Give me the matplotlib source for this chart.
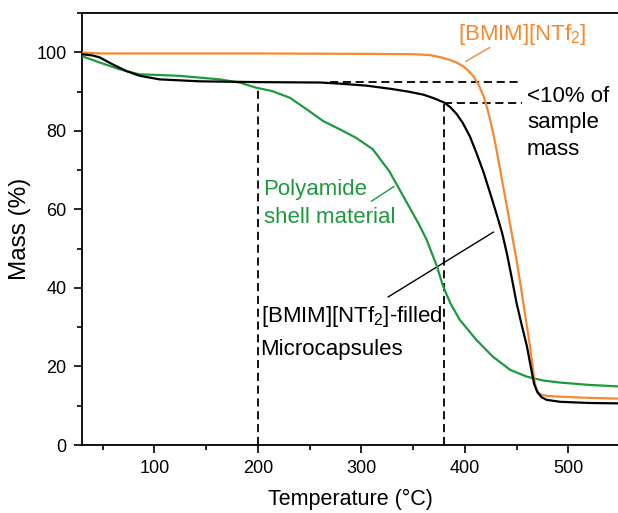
import matplotlib
matplotlib.use("Agg")
import matplotlib.pyplot as plt
from matplotlib.ticker import MultipleLocator

plt.rcParams['font.family'] = ['Liberation Sans', 'DejaVu Sans']
plt.rcParams['mathtext.fontset'] = 'custom'
plt.rcParams['mathtext.rm'] = 'Liberation Sans'
plt.rcParams['mathtext.it'] = 'Liberation Sans:italic'
plt.rcParams['mathtext.bf'] = 'Liberation Sans:bold'

# ---- data ----
T_caps = [30, 40, 47, 59, 73, 86, 105, 144, 200, 260, 280, 305, 328, 345, 360, 370, 380,
          386, 392, 398, 405, 411, 418, 424, 431, 436, 440.5, 445, 450, 455, 460, 464, 467,
          470, 474, 479, 492, 520, 550]
M_caps = [99.5, 99.2, 98.7, 97.0, 95.2, 94.0, 93.1, 92.6, 92.4, 92.3, 92.0, 91.5, 90.7, 90.0, 89.2, 88.3, 87.2,
          86.0, 84.3, 82.0, 78.5, 74.5, 69.5, 64.5, 58.5, 54.0, 48.9, 43.0, 36.1, 30.5, 25.1, 19.5, 15.5,
          13.5, 12.2, 11.5, 11.0, 10.7, 10.6]

T_il = [30, 50, 100, 200, 300, 350, 366, 377, 386, 392, 398, 403, 408, 413, 418, 421, 424, 428,
        431, 434, 437, 440, 444, 447, 450, 454, 457, 460, 463, 465, 467, 469, 471, 474, 480,
        492, 520, 550]
M_il = [99.9, 99.7, 99.7, 99.7, 99.6, 99.5, 99.3, 98.7, 98.0, 97.4, 96.5, 95.4, 94.0, 91.9, 88.9, 86.3, 83.3, 78.6,
        74.6, 70.3, 65.9, 61.6, 55.8, 51.4, 47.0, 40.5, 35.3, 30.2, 25.1, 21.0, 16.8, 14.3, 13.3, 12.8, 12.5,
        12.3, 12.0, 11.8]

T_pa = [30, 47, 66, 85, 124, 163, 182, 198, 214, 231, 247, 263, 279, 295, 311, 327, 344, 356,
        363, 373, 379, 386, 395, 411, 427, 444, 460, 476, 492, 520, 550]
M_pa = [99.0, 97.4, 95.7, 94.4, 94.0, 93.1, 92.3, 91.0, 90.1, 88.4, 85.5, 82.5, 80.4, 78.2, 75.3, 69.7, 61.7, 56.0,
        52.3, 45.5, 40.4, 36.1, 31.9, 26.8, 22.5, 19.1, 17.4, 16.4, 15.9, 15.3, 14.9]

x_ticks = [100, 200, 300, 400, 500]
y_ticks = [0, 20, 40, 60, 80, 100]

ORANGE = '#F7882F'
GREEN = '#1E9A3E'

fig = plt.figure(figsize=(6.18, 5.13), dpi=100)
ax = fig.add_axes([82/618, 1-445/513, 1.0-82/618, (445-13)/513])

ax.plot(T_pa, M_pa, color=GREEN, lw=1.6, zorder=3)
ax.plot(T_il, M_il, color=ORANGE, lw=1.6, zorder=3)
ax.plot(T_caps, M_caps, color='black', lw=1.6, zorder=4)

dash = dict(color='black', lw=1.3, linestyle=(0, (4.5, 2.6)), zorder=2)
ax.plot([200, 200], [0, 91.0], **dash)
ax.plot([380, 380], [0, 87.2], **dash)
ax.plot([270, 455], [92.4, 92.4], **dash)
ax.plot([380, 455], [87.2, 87.2], **dash)

# leader lines
ax.plot([401, 424], [97.7, 101.2], color=ORANGE, lw=1.0)
ax.plot([309.8, 331.4], [62.1, 65.8], color=GREEN, lw=1.0)
ax.plot([325.9, 427.5], [37.7, 54.2], color='black', lw=1.0)

ax.text(393, 104.6, r'[BMIM][NTf$_2$]', color=ORANGE, fontsize=16, va='center', ha='left')
ax.text(460, 82.0, '<10% of\nsample\nmass', color='black', fontsize=16, va='center', ha='left',
        linespacing=1.37)
ax.text(205.5, 61.5, 'Polyamide\nshell material', color=GREEN, fontsize=16, va='center', ha='left',
        linespacing=1.4)
ax.text(202.6, 28.8, '[BMIM][NTf$_2$]-filled\nMicrocapsules', color='black', fontsize=16,
        va='center', ha='left', linespacing=1.58)

ax.set_xlim(30, 548)
ax.set_ylim(0, 110)
ax.set_xticks(x_ticks)
ax.set_yticks(y_ticks)
ax.xaxis.set_minor_locator(MultipleLocator(50))
ax.yaxis.set_minor_locator(MultipleLocator(10))
ax.tick_params(which='major', direction='out', length=6, width=1.2, labelsize=13, pad=5)
ax.tick_params(which='minor', direction='out', length=3.5, width=1.2)
for s in ['left', 'bottom', 'top']:
    ax.spines[s].set_linewidth(1.3)
ax.spines['right'].set_visible(False)

ax.set_xlabel('Temperature (°C)', fontsize=15.5, labelpad=8)
ax.set_ylabel('Mass (%)', fontsize=17.5, labelpad=4)

fig.savefig('out.png', dpi=100)
